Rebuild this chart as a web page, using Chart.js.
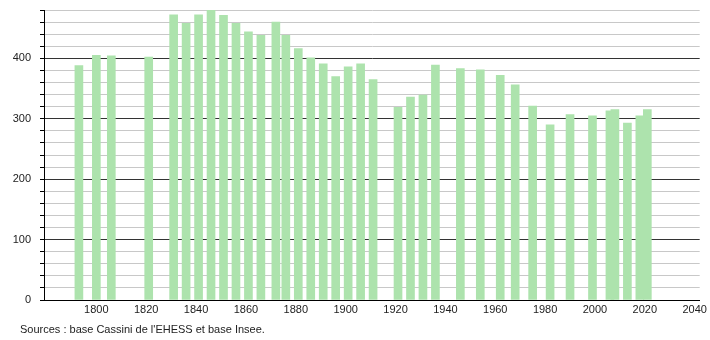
<!DOCTYPE html>
<html>
<head>
<meta charset="utf-8">
<script src="https://cdn.jsdelivr.net/npm/chart.js@4/dist/chart.umd.min.js"></script>
<style>
  body { margin: 0; background: #fff; }
  #wrap { position: relative; width: 710px; height: 340px; }
  #src { position: absolute; left: 20px; top: 323px; font: 11px "Liberation Sans", Arial, sans-serif; color: #222; }
</style>
</head>
<body>
<div id="wrap">
  <canvas id="popChart" width="710" height="340"></canvas>
  <div id="src">Sources : base Cassini de l'EHESS et base Insee.</div>
</div>
<script>
// census years and population
const years = [1793, 1800, 1806, 1821, 1831, 1836, 1841, 1846, 1851, 1856,
  1861, 1866, 1872, 1876, 1881, 1886, 1891, 1896, 1901, 1906,
  1911, 1921, 1926, 1931, 1936, 1946, 1954, 1962, 1968, 1975,
  1982, 1990, 1999, 2006, 2008, 2013, 2018, 2021];
const population = [388, 405, 404, 402, 472, 458, 472, 480, 471, 458,
  444, 438, 460, 438, 416, 401, 391, 370, 386, 391,
  365, 319, 336, 339, 389, 383, 381, 372, 356, 321,
  290, 307, 305, 313, 315, 293, 305, 315];
const xTicks = [1800, 1820, 1840, 1860, 1880, 1900, 1920, 1940, 1960, 1980, 2000, 2020, 2040];

const font = { family: '"Liberation Sans", Arial, sans-serif', size: 11 };

new Chart(document.getElementById('popChart'), {
  type: 'bar',
  data: {
    datasets: [{
      data: years.map((y, i) => ({ x: y, y: population[i] })),
      backgroundColor: '#ade3ad',
      barThickness: 8
    }]
  },
  options: {
    responsive: false,
    animation: false,
    layout: { padding: { top: 10, right: 9, bottom: 20, left: 0 } },
    plugins: { legend: { display: false }, tooltip: { enabled: false } },
    scales: {
      x: {
        type: 'linear',
        offset: false,
        min: 1779,
        max: 2042,
        afterBuildTicks: scale => { scale.ticks = xTicks.map(v => ({ value: v })); },
        afterFit: scale => { scale.height = 20; },
        grid: { display: false, offset: false, drawTicks: false, tickLength: 0 },
        border: { color: '#000', width: 1 },
        ticks: { autoSkip: false, maxRotation: 0, padding: 3, color: '#222', font: font,
          callback: v => String(v) }
      },
      y: {
        min: 0,
        max: 480,
        afterFit: scale => { scale.width = 44; scale.paddingTop = 0; scale.paddingBottom = 0; },
        ticks: {
          stepSize: 20,
          autoSkip: false,
          padding: 9,
          color: '#222',
          font: font,
          callback: v => (v % 100 === 0 ? String(v) : '')
        },
        grid: {
          color: ctx => (ctx.tick && ctx.tick.value % 100 === 0 ? '#333' : '#c8c8c8'),
          tickColor: '#000',
          tickLength: 4
        },
        border: { color: '#000', width: 1 }
      }
    }
  }
});
</script>
</body>
</html>
